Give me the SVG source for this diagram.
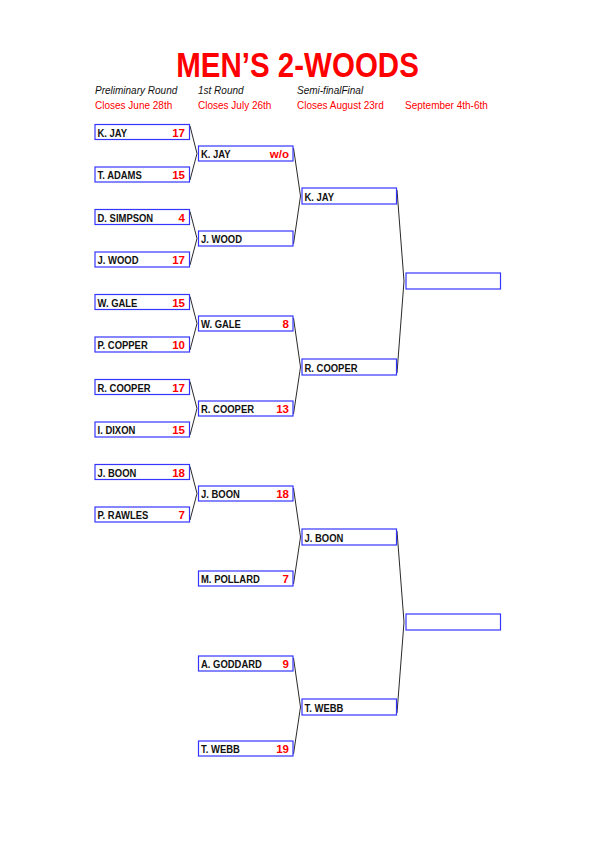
<svg xmlns="http://www.w3.org/2000/svg" width="595" height="842" viewBox="0 0 595 842">
<style>
.bg{fill:#fff}
.box{fill:#fff;stroke:#3535ff;stroke-width:1.2}
.nm{font-family:"Liberation Sans",Arial,sans-serif;font-weight:bold;font-size:11px;fill:#111}
.sc{font-family:"Liberation Sans",Arial,sans-serif;font-weight:bold;font-size:11.5px;fill:#ff0000;text-anchor:end}
.title{font-family:"Liberation Sans",Arial,sans-serif;font-weight:bold;font-size:36px;fill:#ff0000;text-anchor:middle}
.rd{font-family:"Liberation Sans",Arial,sans-serif;font-style:italic;font-size:10px;fill:#111}
.cl{font-family:"Liberation Sans",Arial,sans-serif;font-size:10px;fill:#ff0000}
.ln{stroke:#111;stroke-width:0.9;fill:none}
</style>
<rect class="bg" x="0" y="0" width="595" height="842"/>
<g id="header">
<text class="title" transform="translate(297.5,77) scale(0.82,1)">MEN’S 2-WOODS</text>
<text class="rd" x="95" y="94">Preliminary Round</text>
<text class="rd" x="198" y="94">1st Round</text>
<text class="rd" x="297" y="94">Semi-finalFinal</text>
<text class="cl" x="95" y="108.5">Closes June 28th</text>
<text class="cl" x="198" y="108.5">Closes July 26th</text>
<text class="cl" x="297" y="108.5">Closes August 23rd</text>
<text class="cl" x="405" y="108.5">September 4th-6th</text>
</g>
<g id="connectors">
<polyline class="ln" points="190,126 197,153.5 190,180"/>
<polyline class="ln" points="190,211.5 197,238.5 190,265"/>
<polyline class="ln" points="190,296.5 197,323.5 190,350"/>
<polyline class="ln" points="190,381.5 197,408.5 190,435"/>
<polyline class="ln" points="190,466.5 197,493.5 190,520"/>
<polyline class="ln" points="293.5,148 300.5,196 293.5,244"/>
<polyline class="ln" points="293.5,318 300.5,367 293.5,414"/>
<polyline class="ln" points="293.5,488 300.5,537 293.5,584"/>
<polyline class="ln" points="293.5,658 300.5,707 293.5,754"/>
<polyline class="ln" points="397,190 404,281 397,373"/>
<polyline class="ln" points="397,531 404,622 397,713"/>
</g>
<g id="p1"><rect class="box" x="95" y="124.5" width="94.5" height="15"/><text class="nm" transform="translate(97.5,136.5) scale(0.86,1)">K. JAY</text><text class="sc" x="185" y="136.5">17</text></g>
<g id="p2"><rect class="box" x="95" y="167" width="94.5" height="15"/><text class="nm" transform="translate(97.5,179) scale(0.86,1)">T. ADAMS</text><text class="sc" x="185" y="179">15</text></g>
<g id="p3"><rect class="box" x="95" y="209.5" width="94.5" height="15"/><text class="nm" transform="translate(97.5,221.5) scale(0.86,1)">D. SIMPSON</text><text class="sc" x="185" y="221.5">4</text></g>
<g id="p4"><rect class="box" x="95" y="252" width="94.5" height="15"/><text class="nm" transform="translate(97.5,264) scale(0.86,1)">J. WOOD</text><text class="sc" x="185" y="264">17</text></g>
<g id="p5"><rect class="box" x="95" y="294.5" width="94.5" height="15"/><text class="nm" transform="translate(97.5,306.5) scale(0.86,1)">W. GALE</text><text class="sc" x="185" y="306.5">15</text></g>
<g id="p6"><rect class="box" x="95" y="337" width="94.5" height="15"/><text class="nm" transform="translate(97.5,349) scale(0.86,1)">P. COPPER</text><text class="sc" x="185" y="349">10</text></g>
<g id="p7"><rect class="box" x="95" y="379.5" width="94.5" height="15"/><text class="nm" transform="translate(97.5,391.5) scale(0.86,1)">R. COOPER</text><text class="sc" x="185" y="391.5">17</text></g>
<g id="p8"><rect class="box" x="95" y="422" width="94.5" height="15"/><text class="nm" transform="translate(97.5,434) scale(0.86,1)">I. DIXON</text><text class="sc" x="185" y="434">15</text></g>
<g id="p9"><rect class="box" x="95" y="464.5" width="94.5" height="15"/><text class="nm" transform="translate(97.5,476.5) scale(0.86,1)">J. BOON</text><text class="sc" x="185" y="476.5">18</text></g>
<g id="p10"><rect class="box" x="95" y="507" width="94.5" height="15"/><text class="nm" transform="translate(97.5,519) scale(0.86,1)">P. RAWLES</text><text class="sc" x="185" y="519">7</text></g>
<g id="r1"><rect class="box" x="198.5" y="146" width="94.5" height="15"/><text class="nm" transform="translate(201,158) scale(0.86,1)">K. JAY</text><text class="sc" x="289" y="158">w/o</text></g>
<g id="r2"><rect class="box" x="198.5" y="231" width="94.5" height="15"/><text class="nm" transform="translate(201,243) scale(0.86,1)">J. WOOD</text></g>
<g id="r3"><rect class="box" x="198.5" y="316" width="94.5" height="15"/><text class="nm" transform="translate(201,328) scale(0.86,1)">W. GALE</text><text class="sc" x="289" y="328">8</text></g>
<g id="r4"><rect class="box" x="198.5" y="401" width="94.5" height="15"/><text class="nm" transform="translate(201,413) scale(0.86,1)">R. COOPER</text><text class="sc" x="289" y="413">13</text></g>
<g id="r5"><rect class="box" x="198.5" y="486" width="94.5" height="15"/><text class="nm" transform="translate(201,498) scale(0.86,1)">J. BOON</text><text class="sc" x="289" y="498">18</text></g>
<g id="r6"><rect class="box" x="198.5" y="571" width="94.5" height="15"/><text class="nm" transform="translate(201,583) scale(0.86,1)">M. POLLARD</text><text class="sc" x="289" y="583">7</text></g>
<g id="r7"><rect class="box" x="198.5" y="656" width="94.5" height="15"/><text class="nm" transform="translate(201,668) scale(0.86,1)">A. GODDARD</text><text class="sc" x="289" y="668">9</text></g>
<g id="r8"><rect class="box" x="198.5" y="741" width="94.5" height="15"/><text class="nm" transform="translate(201,753) scale(0.86,1)">T. WEBB</text><text class="sc" x="289" y="753">19</text></g>
<g id="s1"><rect class="box" x="302" y="188" width="94.5" height="16"/><text class="nm" transform="translate(304.5,200.5) scale(0.86,1)">K. JAY</text></g>
<g id="s2"><rect class="box" x="302" y="359" width="94.5" height="16"/><text class="nm" transform="translate(304.5,371.5) scale(0.86,1)">R. COOPER</text></g>
<g id="s3"><rect class="box" x="302" y="529" width="94.5" height="16"/><text class="nm" transform="translate(304.5,541.5) scale(0.86,1)">J. BOON</text></g>
<g id="s4"><rect class="box" x="302" y="699" width="94.5" height="16"/><text class="nm" transform="translate(304.5,711.5) scale(0.86,1)">T. WEBB</text></g>
<g id="f1"><rect class="box" x="406" y="273" width="94.5" height="16"/></g>
<g id="f2"><rect class="box" x="406" y="614" width="94.5" height="16"/></g>
</svg>
